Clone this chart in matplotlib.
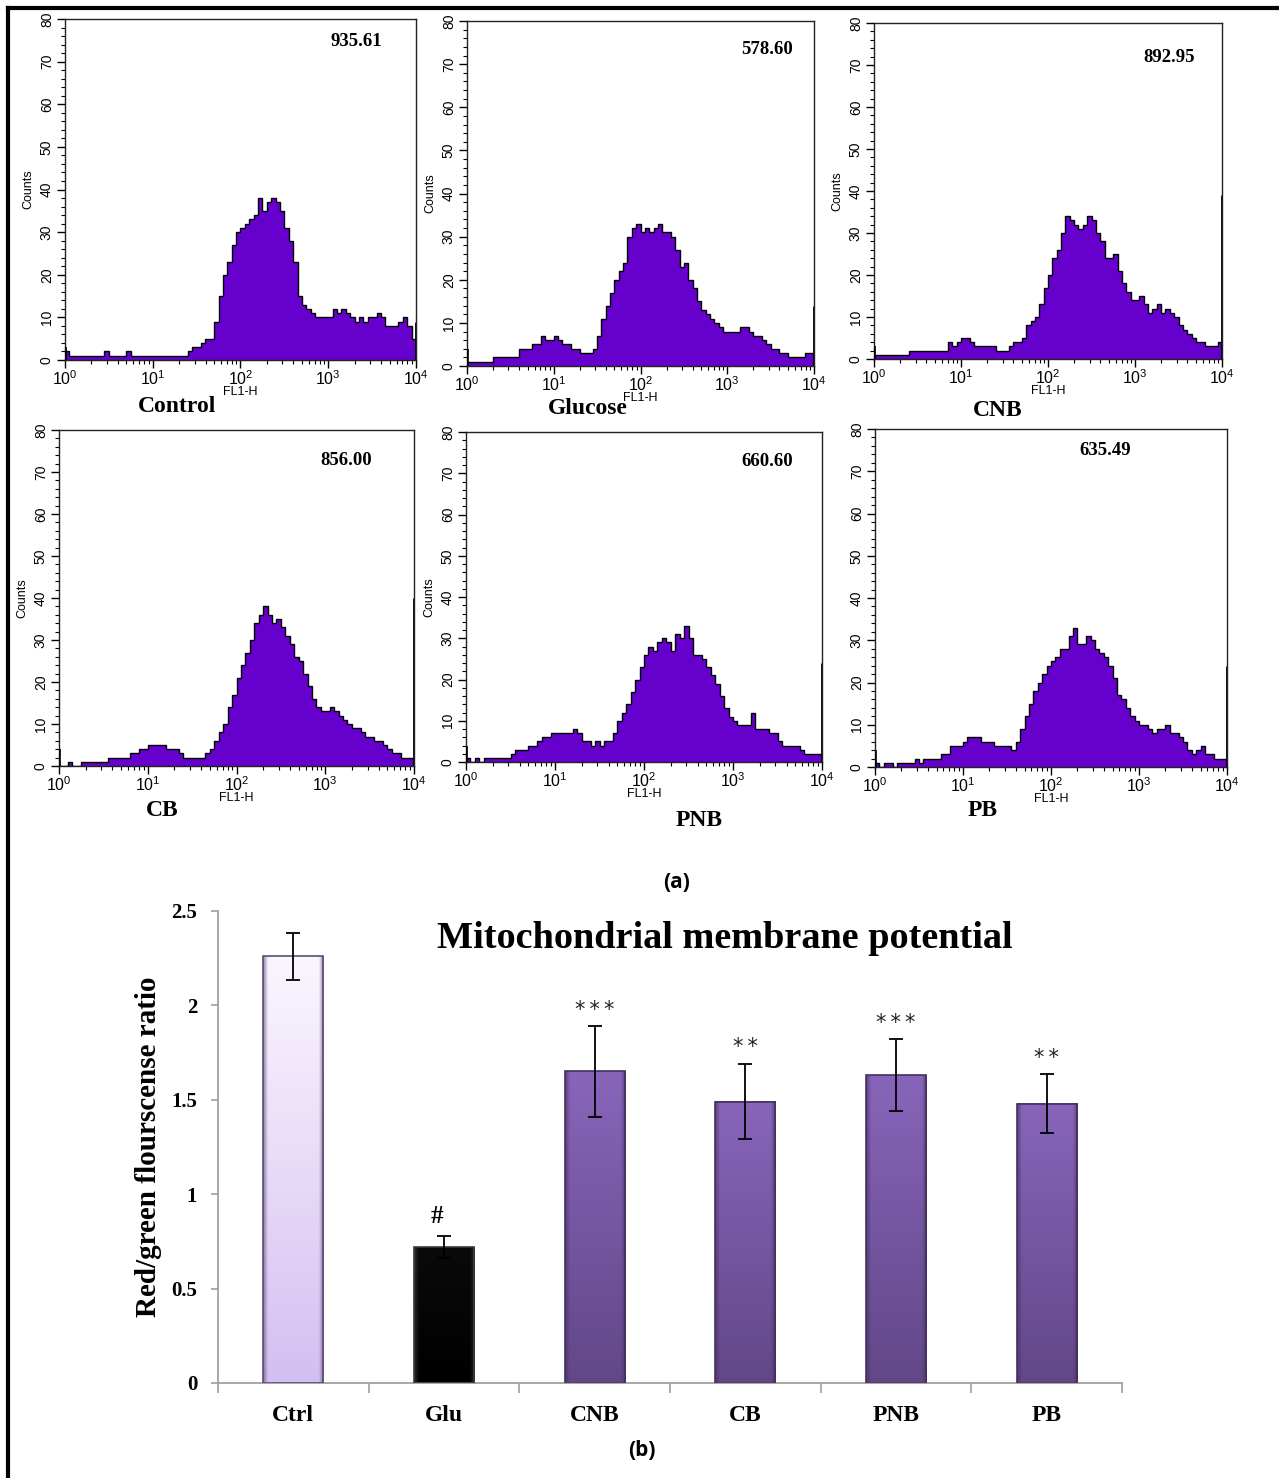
import numpy as np
import matplotlib
matplotlib.use('Agg')
import matplotlib.pyplot as plt
from matplotlib.ticker import MultipleLocator, LogLocator, NullFormatter
from matplotlib.lines import Line2D
from matplotlib.patches import Rectangle

W, H = 1279, 1478

# ---- flow cytometry histograms (JC-1, FL1-H), 20 channels per decade ----
samples = ['Control', 'Glucose', 'CNB', 'CB', 'PNB', 'PB']
geo_means = ['935.61', '578.60', '892.95', '856.00', '660.60', '635.49']

control_counts = [2, 1, 1, 1, 1, 1, 1, 1, 1, 2, 1, 1, 1, 1, 2, 1, 1, 1, 1, 1,
                  1, 1, 1, 1, 1, 1, 1, 1, 2, 3, 3, 4, 5, 5, 9, 15, 20, 23, 27, 30,
                  31, 32, 33, 34, 38, 35, 37, 38, 37, 35, 31, 28, 23, 15, 13, 12, 11, 10, 10, 10,
                  10, 12, 11, 12, 11, 10, 9, 10, 9, 10, 10, 11, 10, 8, 8, 8, 9, 10, 8, 5]
glucose_counts = [1, 1, 1, 1, 1, 1, 2, 2, 2, 2, 2, 2, 4, 4, 4, 5, 5, 7, 6, 6,
                  7, 6, 5, 5, 4, 4, 3, 3, 3, 4, 7, 11, 14, 17, 20, 22, 24, 30, 32, 33,
                  31, 32, 31, 32, 33, 31, 31, 30, 27, 23, 24, 20, 18, 15, 13, 12, 11, 10, 9, 8,
                  8, 8, 8, 9, 9, 8, 7, 7, 6, 5, 4, 4, 3, 3, 2, 2, 2, 2, 3, 3]
cnb_counts = [1, 1, 1, 1, 1, 1, 1, 1, 2, 2, 2, 2, 2, 2, 2, 2, 2, 4, 3, 4,
              5, 5, 4, 3, 3, 3, 3, 3, 2, 2, 2, 3, 4, 4, 5, 8, 9, 10, 13, 17,
              20, 24, 26, 30, 34, 33, 32, 31, 32, 34, 33, 30, 28, 24, 24, 25, 21, 18, 16, 14,
              14, 15, 13, 11, 12, 13, 11, 12, 11, 10, 8, 7, 6, 5, 4, 4, 3, 3, 3, 4]
cb_counts = [0, 0, 1, 0, 0, 1, 1, 1, 1, 1, 1, 2, 2, 2, 2, 2, 3, 3, 4, 4,
             5, 5, 5, 5, 4, 4, 4, 3, 2, 2, 2, 2, 2, 3, 4, 6, 8, 10, 14, 17,
             21, 24, 27, 30, 34, 36, 38, 36, 34, 35, 33, 31, 29, 26, 25, 22, 19, 16, 14, 13,
             13, 14, 13, 12, 11, 10, 9, 9, 8, 7, 7, 6, 6, 5, 4, 3, 3, 2, 2, 2]
pnb_counts = [1, 0, 1, 0, 1, 1, 1, 1, 1, 1, 2, 3, 3, 3, 4, 4, 5, 6, 6, 7,
              7, 7, 7, 7, 8, 7, 5, 5, 4, 5, 4, 5, 5, 7, 10, 12, 14, 17, 20, 23,
              26, 28, 27, 29, 30, 29, 27, 31, 30, 33, 30, 26, 26, 25, 23, 21, 19, 16, 13, 11,
              10, 9, 9, 9, 12, 8, 8, 8, 7, 7, 5, 4, 4, 4, 4, 3, 2, 2, 2, 2]
pb_counts = [1, 0, 1, 1, 0, 1, 1, 1, 1, 2, 1, 2, 2, 2, 2, 3, 3, 5, 5, 5,
             6, 7, 7, 7, 6, 6, 6, 5, 5, 5, 5, 4, 6, 9, 12, 15, 18, 20, 22, 24,
             25, 26, 28, 28, 31, 33, 29, 29, 31, 30, 28, 27, 26, 24, 21, 17, 16, 14, 12, 11,
             10, 10, 9, 8, 9, 9, 10, 8, 8, 7, 6, 4, 3, 4, 5, 3, 3, 2, 2, 2]
hist_counts = [control_counts, glucose_counts, cnb_counts, cb_counts, pnb_counts, pb_counts]
first_channel = [3, 4, 3, 4, 4, 4]
last_channel = [9, 14, 39, 40, 24, 24]

# ---- red/green ratio bar chart ----
groups = ['Ctrl', 'Glu', 'CNB', 'CB', 'PNB', 'PB']
ratio = [2.26, 0.72, 1.65, 1.49, 1.63, 1.48]
ratio_sd = [0.125, 0.06, 0.24, 0.20, 0.19, 0.155]
signif = ['', '#', '***', '**', '***', '**']

# layout in pixels (left, top, right, bottom)
hist_boxes = [(65, 19, 416, 360), (467, 21, 814, 366), (874, 23, 1222, 359),
              (59, 430, 414, 766), (466, 432, 822, 762), (875, 429, 1227, 767)]
name_xy = [(177, 407), (588, 409), (998, 410), (162, 810), (699, 820), (983, 810)]
mean_xy = [(0.83, 0.935), (0.865, 0.916), (0.848, 0.896),
           (0.81, 0.908), (0.845, 0.912), (0.653, 0.935)]

plt.rcParams['font.family'] = ['Liberation Sans', 'DejaVu Sans']
plt.rcParams['mathtext.default'] = 'regular'
SERIF = 'Liberation Serif'
PURPLE = '#6600cc'


def px_rect(x0, y0, x1, y1):
    return [x0 / W, 1 - y1 / H, (x1 - x0) / W, (y1 - y0) / H]


def fig_xy(x, y):
    return x / W, 1 - y / H


fig = plt.figure(figsize=(W / 100, H / 100), dpi=100)

edges = 10 ** (np.arange(81) / 20)
for i, counts in enumerate(hist_counts):
    ax = fig.add_axes(px_rect(*hist_boxes[i]))
    ax.stairs(counts, edges, fill=True, color=PURPLE, zorder=2)
    ax.stairs(counts, edges, color='black', lw=1.0, zorder=3)
    ax.vlines(1.02, 0, first_channel[i], color='black', lw=1.2, zorder=3)
    ax.vlines(9950, 0, last_channel[i], color='black', lw=2, zorder=3)
    ax.set_xscale('log')
    ax.set_xlim(1, 1e4)
    ax.set_ylim(0, 80)
    ax.set_xticks([1, 10, 100, 1000, 10000])
    ax.set_xticklabels(['$10^{0}$', '$10^{1}$', '$10^{2}$', '$10^{3}$', '$10^{4}$'])
    ax.xaxis.set_minor_locator(LogLocator(base=10, subs=np.arange(2, 10)))
    ax.xaxis.set_minor_formatter(NullFormatter())
    ax.set_yticks(range(0, 81, 10))
    ax.yaxis.set_minor_locator(MultipleLocator(2))
    for lab in ax.get_yticklabels():
        lab.set_rotation(90)
        lab.set_va('center')
    ax.tick_params(which='major', direction='out', length=6, width=1, labelsize=10, pad=2)
    ax.tick_params(axis='x', which='major', labelsize=11.5, pad=1)
    ax.tick_params(which='minor', direction='out', length=3, width=0.8)
    for sp in ax.spines.values():
        sp.set_linewidth(1)
        sp.set_color('#222222')
    ax.set_xlabel('FL1-H', fontsize=9, labelpad=-2)
    if i != 5:
        ax.set_ylabel('Counts', fontsize=9, labelpad=4)
    ax.text(mean_xy[i][0], mean_xy[i][1], geo_means[i], transform=ax.transAxes,
            ha='center', va='center', fontsize=13.5, fontweight='bold', family=SERIF)
    fx, fy = fig_xy(*name_xy[i])
    fig.text(fx, fy, samples[i], ha='center', va='center', fontsize=17,
             fontweight='bold', family=SERIF)

fx, fy = fig_xy(677, 883)
fig.text(fx, fy, '(a)', ha='center', va='center', fontsize=15, fontweight='bold',
         family='Open Sans')
fx, fy = fig_xy(642, 1450)
fig.text(fx, fy, '(b)', ha='center', va='center', fontsize=15, fontweight='bold',
         family='Open Sans')

# ---- bar chart ----
bx = fig.add_axes(px_rect(218, 911, 1122, 1383))
pos = np.arange(len(groups)) + 0.5
bar_w = 0.4
bar_styles = [('#fbf6fe', '#d4bff1', '#5e4d78'),
              ('#0a0a0a', '#000000', '#3a3a3a'),
              ('#8865ba', '#624788', '#44305f'),
              ('#8865ba', '#624788', '#44305f'),
              ('#8865ba', '#624788', '#44305f'),
              ('#8865ba', '#624788', '#44305f')]

bars = bx.bar(pos, ratio, width=bar_w, color='none', edgecolor='none', zorder=2)
u = np.linspace(0, 1, 80)
side = np.clip(np.minimum(u, 1 - u) / 0.08, 0, 1)
for rect, (top, bottom, edge) in zip(bars, bar_styles):
    c0 = np.array(matplotlib.colors.to_rgb(top))
    c1 = np.array(matplotlib.colors.to_rgb(bottom))
    ce = np.array(matplotlib.colors.to_rgb(edge))
    t = np.linspace(0, 1, 200)[:, None, None]
    body = c0 * (1 - t) + c1 * t
    s = side[None, :, None]
    img = body * (0.35 + 0.65 * s) + ce * (0.65 * (1 - s))
    x0 = rect.get_x()
    h = rect.get_height()
    bx.imshow(img, extent=[x0, x0 + bar_w, 0, h], aspect='auto', origin='upper',
              zorder=2, interpolation='bilinear')
    bx.add_patch(Rectangle((x0, 0), bar_w, h, fill=False, edgecolor=edge,
                           lw=1.2, zorder=3))

bx.errorbar(pos, ratio, yerr=ratio_sd, fmt='none', ecolor='black', elinewidth=1.3,
            capsize=5, capthick=1.3, zorder=4)
for p, v, e, s in zip(pos, ratio, ratio_sd, signif):
    if not s:
        continue
    if s == '#':
        bx.text(p - 0.05, v + e + 0.04, s, ha='center', va='bottom', fontsize=18,
                fontweight='bold', family=SERIF)
    else:
        bx.text(p, v + e + 0.035, '\u2009'.join(s), ha='center', va='bottom', fontsize=15,
                family='DejaVu Sans', color='#222222')

bx.set_xlim(0, len(groups))
bx.set_ylim(0, 2.5)
bx.set_xticks(np.arange(len(groups) + 1))
bx.set_xticklabels([])
bx.set_xticks(pos, minor=True)
bx.set_xticklabels(groups, minor=True, fontsize=17, fontweight='bold', family=SERIF)
bx.tick_params(axis='x', which='major', length=7, width=1.2, color='#a0a0a0', direction='out')
bx.tick_params(axis='x', which='minor', length=0, pad=16)
bx.set_yticks([0, 0.5, 1, 1.5, 2, 2.5])
bx.set_yticklabels(['0', '0.5', '1', '1.5', '2', '2.5'], fontsize=15,
                   fontweight='bold', family=SERIF)
bx.tick_params(axis='y', length=5, width=1.2, color='#a0a0a0', direction='out', pad=10)
for side_name in ('top', 'right'):
    bx.spines[side_name].set_visible(False)
for side_name in ('left', 'bottom'):
    bx.spines[side_name].set_color('#a0a0a0')
    bx.spines[side_name].set_linewidth(1.3)
bx.set_ylabel('Red/green flourscense ratio', fontsize=21, fontweight='bold', family=SERIF)
bx.yaxis.set_label_coords(-56 / 904, 0.5)

fx, fy = fig_xy(725, 939)
fig.text(fx, fy, 'Mitochondrial membrane potential', ha='center', va='center',
         fontsize=27.5, fontweight='bold', family=SERIF)

# frame lines along the top and left edges
fig.add_artist(Line2D([8 / W, 8 / W], [0, 1 - 8 / H], transform=fig.transFigure,
                      color='black', lw=3))
fig.add_artist(Line2D([8 / W, 1], [1 - 8 / H, 1 - 8 / H], transform=fig.transFigure,
                      color='black', lw=3))

fig.savefig('out.png', dpi=100, facecolor='white')
